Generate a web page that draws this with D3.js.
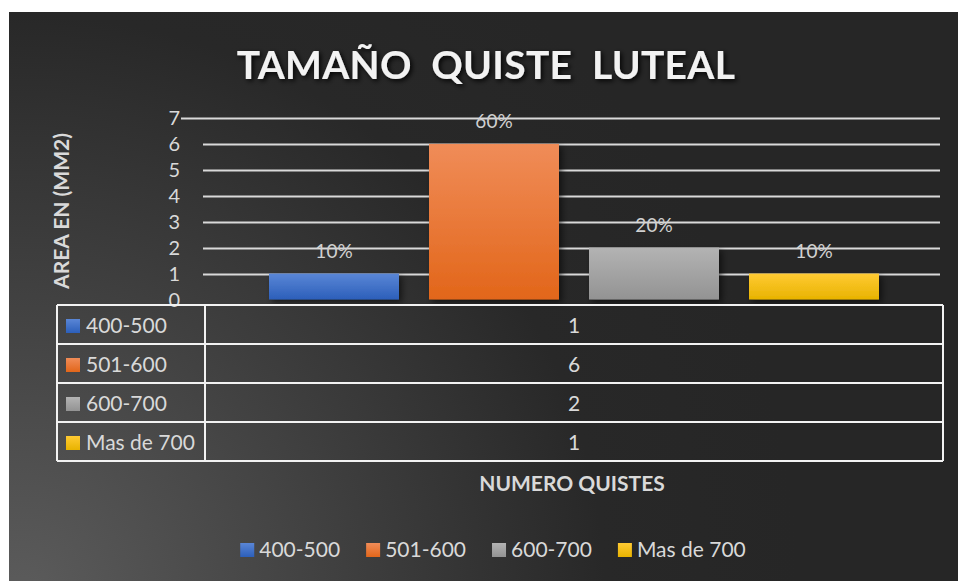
<!DOCTYPE html>
<html>
  <head>
    <meta charset="utf-8">
    <title>Tamaño quiste luteal</title>
    <script src="https://d3js.org/d3.v7.min.js"></script>
    <style>
      body { margin: 0; background: #fff; }
      text { font-family: Lato, "Open Sans", sans-serif; }
      .tick-label { font-size: 20px; fill: #d9d9d9; }
      .bar-label { font-size: 19px; fill: #d0d0d0; }
      .cell-text { font-size: 21px; fill: #d9d9d9; }
      .axis-title { font-size: 21px; font-weight: bold; fill: #d9d9d9; }
      .chart-title { font-size: 39px; font-weight: bold; fill: #f2f2f2; letter-spacing: 0.3px; white-space: pre; }
    </style>
  </head>
  <body>
    <svg width="958" height="581"></svg>
    <script>
      const series = ["400-500", "501-600", "600-700", "Mas de 700"];
      const counts = [1, 6, 2, 1];
      const yTicks = [0, 1, 2, 3, 4, 5, 6, 7];
      const colorsTop = ["#5a86d6", "#f08c58", "#b3b3b3", "#ffca33"];
      const colorsBottom = ["#2c5fba", "#e2661a", "#939393", "#e8b300"];

      const svg = d3.select("svg");
      const defs = svg.append("defs");

      const bg = defs.append("radialGradient")
        .attr("id", "bg")
        .attr("gradientUnits", "userSpaceOnUse")
        .attr("cx", 20).attr("cy", 600).attr("r", 780);
      bg.append("stop").attr("offset", 0).attr("stop-color", "#5c5c5c");
      bg.append("stop").attr("offset", 0.75).attr("stop-color", "#282828");
      bg.append("stop").attr("offset", 1).attr("stop-color", "#262626");

      series.forEach((s, i) => {
        const g = defs.append("linearGradient")
          .attr("id", "bar" + i)
          .attr("x1", 0).attr("y1", 0).attr("x2", 0).attr("y2", 1);
        g.append("stop").attr("offset", 0).attr("stop-color", colorsTop[i]);
        g.append("stop").attr("offset", 1).attr("stop-color", colorsBottom[i]);
      });

      const shadow = defs.append("filter").attr("id", "shadow")
        .attr("x", "-20%").attr("y", "-20%").attr("width", "140%").attr("height", "140%");
      shadow.append("feDropShadow")
        .attr("dx", 3).attr("dy", 3).attr("stdDeviation", 3)
        .attr("flood-color", "#000").attr("flood-opacity", 0.55);

      const tshadow = defs.append("filter").attr("id", "tshadow");
      tshadow.append("feDropShadow")
        .attr("dx", 2).attr("dy", 2).attr("stdDeviation", 2.5)
        .attr("flood-color", "#000").attr("flood-opacity", 0.9);

      // background
      svg.append("rect")
        .attr("x", 9).attr("y", 12)
        .attr("width", 949).attr("height", 569)
        .attr("fill", "url(#bg)");

      // title
      svg.append("text")
        .attr("class", "chart-title")
        .attr("x", 486).attr("y", 79)
        .attr("text-anchor", "middle")
        .attr("filter", "url(#tshadow)")
        .text("TAMAÑO  QUISTE  LUTEAL");

      const plotLeft = 205, plotRight = 943;
      const y = d3.scaleLinear().domain([0, 7]).range([299.5, 118]);
      const x = d3.scaleBand()
        .domain(series)
        .range([plotLeft, plotRight])
        .paddingInner(0.1875)
        .paddingOuter(0.4);

      // gridlines
      svg.append("g")
        .selectAll("line")
        .data(yTicks.filter(d => d > 0))
        .join("line")
          .attr("x1", d => d === 7 ? 181 : 203)
          .attr("x2", 940)
          .attr("y1", d => Math.round(y(d)) + 0.5)
          .attr("y2", d => Math.round(y(d)) + 0.5)
          .attr("stroke", "#d9d9d9")
          .attr("stroke-width", 2);

      // y tick labels
      svg.append("g")
        .selectAll("text")
        .data(yTicks)
        .join("text")
          .attr("class", "tick-label")
          .attr("x", 180)
          .attr("y", d => y(d) + 7)
          .attr("text-anchor", "end")
          .text(d => d);

      // bars
      svg.append("g")
        .selectAll("rect")
        .data(counts)
        .join("rect")
          .attr("x", (d, i) => x(series[i]))
          .attr("y", d => y(d))
          .attr("width", x.bandwidth())
          .attr("height", d => y(0) - y(d))
          .attr("fill", (d, i) => `url(#bar${i})`)
          .attr("filter", "url(#shadow)");

      const total = d3.sum(counts);
      svg.append("g")
        .selectAll("text")
        .data(counts)
        .join("text")
          .attr("class", "bar-label")
          .attr("x", (d, i) => x(series[i]) + x.bandwidth() / 2)
          .attr("y", d => y(d) - 16)
          .attr("text-anchor", "middle")
          .text(d => Math.round(d / total * 100) + "%");

      // data table
      const tableLeft = 57, colSplit = 205, tableTop = 305, rowH = 39;
      const table = svg.append("g");
      series.forEach((s, i) => {
        const top = tableTop + i * rowH;
        table.append("rect")
          .attr("x", 66).attr("y", top + 14)
          .attr("width", 14).attr("height", 14)
          .attr("fill", `url(#bar${i})`);
        table.append("text")
          .attr("class", "cell-text")
          .attr("x", 86).attr("y", top + 28)
          .text(s);
        table.append("text")
          .attr("class", "cell-text")
          .attr("x", (colSplit + plotRight) / 2).attr("y", top + 28)
          .attr("text-anchor", "middle")
          .text(counts[i]);
      });
      const tableBottom = tableTop + series.length * rowH;
      table.selectAll("line.row")
        .data(d3.range(series.length + 1))
        .join("line")
          .attr("class", "row")
          .attr("x1", tableLeft).attr("x2", plotRight)
          .attr("y1", d => tableTop + d * rowH)
          .attr("y2", d => tableTop + d * rowH)
          .attr("stroke", "#f2f2f2").attr("stroke-width", 2);
      table.selectAll("line.col")
        .data([tableLeft, colSplit, plotRight])
        .join("line")
          .attr("class", "col")
          .attr("x1", d => d).attr("x2", d => d)
          .attr("y1", tableTop).attr("y2", tableBottom)
          .attr("stroke", "#f2f2f2").attr("stroke-width", 2);

      // axis titles
      svg.append("text")
        .attr("class", "axis-title")
        .attr("x", 572).attr("y", 491)
        .attr("text-anchor", "middle")
        .text("NUMERO QUISTES");

      svg.append("text")
        .attr("class", "axis-title")
        .attr("transform", "translate(69, 211) rotate(-90)")
        .attr("text-anchor", "middle")
        .text("AREA EN (MM2)");

      // legend
      const legend = svg.append("g");
      const items = legend.selectAll("g")
        .data(series)
        .join("g");
      items.append("rect")
        .attr("y", 543)
        .attr("width", 14).attr("height", 14)
        .attr("fill", (d, i) => `url(#bar${i})`);
      items.append("text")
        .attr("class", "cell-text")
        .attr("x", 19)
        .attr("y", 557)
        .text(d => d);
      const widths = [];
      items.each(function () {
        widths.push(19 + d3.select(this).select("text").node().getComputedTextLength());
      });
      const gap = 26;
      const totalW = d3.sum(widths) + gap * (widths.length - 1);
      let cursor = 493 - totalW / 2;
      items.attr("transform", (d, i) => {
        const tx = cursor;
        cursor += widths[i] + gap;
        return `translate(${tx},0)`;
      });
    </script>
  </body>
</html>
